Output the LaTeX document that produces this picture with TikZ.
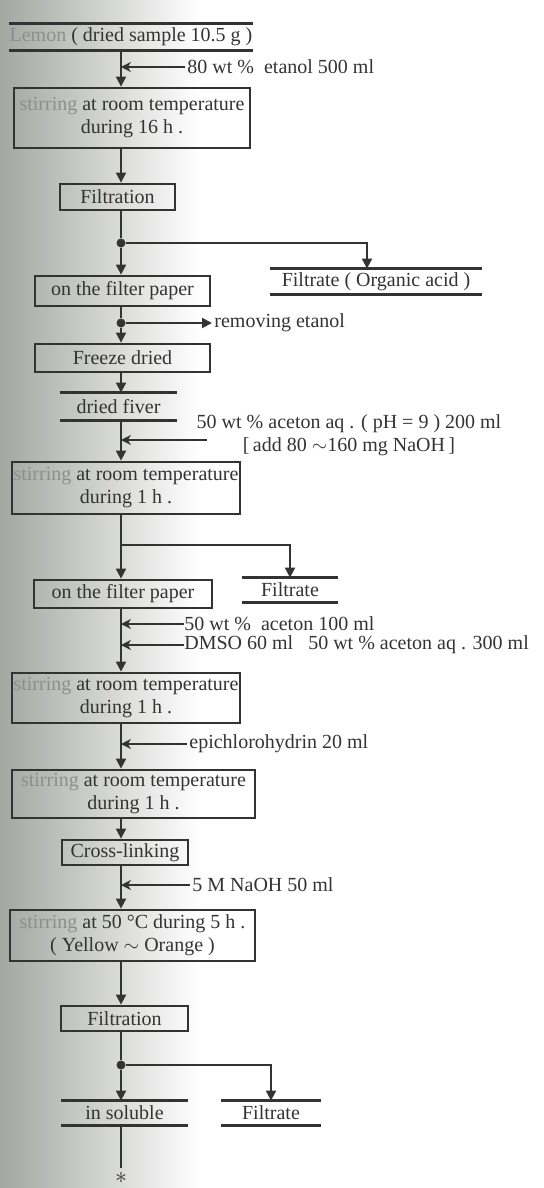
\documentclass[tikz,border=0pt]{standalone}
\usepackage{fontspec}
\setmainfont{Liberation Serif}
\usetikzlibrary{arrows.meta}
\definecolor{Ci}{HTML}{333333}
\definecolor{Cs}{HTML}{A3A6A1}
\definecolor{Cm}{HTML}{D0D1CE}
\definecolor{Cf}{HTML}{8E8E8E}

\tikzset{
  stepbox/.style={draw=Ci, line width=1.4pt, inner sep=0pt, align=center, text=Ci},
  barbox/.style={inner sep=0pt, text=Ci},
  bar/.style={draw=Ci, line width=1.3pt},
  sidetext/.style={anchor=west, inner sep=1pt, text=Ci},
  junction/.style={circle, fill=Ci, inner sep=0pt, minimum size=4.5pt},
  flow/.style={draw=Ci, line width=1pt, -{Triangle[length=5pt,width=5pt]}},
  feed/.style={draw=Ci, line width=1pt, -{Stealth[length=5pt,width=5pt]}},
  plain/.style={draw=Ci, line width=1pt},
}

\begin{document}
\begin{tikzpicture}[x=0.5pt, y=-0.5pt, font=\fontsize{10}{11.5}\selectfont]

		\useasboundingbox (0,0) rectangle (544,1188);
		
		%% scanned page shading on the left
		\shade[left color=Cs, middle color=Cm, right color=white]
		(0,0) rectangle (200,1188);
		
		%% main axis
		\coordinate (ax) at (121,0);
		
		%% ── steps ─────────────────────────────────────────────────────────────
		\node[barbox, minimum width=117pt, minimum height=13pt] (src) at (131,37)
		{\textcolor{Cf}{Lemon} ( dried sample 10.5 g )};
		\node[sidetext] (eta) at (185,67) {80 wt \%\ \ etanol 500 ml};
		\node[stepbox, minimum width=118pt, minimum height=30pt] (st1) at (132,118)
		{\textcolor{Cf}{stirring} at room temperature\\during 16 h .};
		\node[stepbox, minimum width=57.5pt, minimum height=13pt] (fl1) at (117.5,197) {Filtration};
		\node[junction] (j1) at (121,243) {};
		\node[barbox, minimum width=106pt, minimum height=12.5pt] (org) at (376,281.5)
		{Filtrate ( Organic acid )};
		\node[stepbox, minimum width=87.5pt, minimum height=15pt] (fp1) at (122.5,291) {on the filter paper};
		\node[junction] (j2) at (121,323) {};
		\node[sidetext] (rme) at (212,323) {removing etanol};
		\node[stepbox, minimum width=87.5pt, minimum height=14pt] (frz) at (122.5,358) {Freeze dried};
		\node[barbox, minimum width=58.5pt, minimum height=13.5pt] (fiv) at (118.5,406.5) {dried fiver};
		\node[align=center, inner sep=0pt, text=Ci] (ace) at (349,435)
		{50 wt \% aceton aq . ( pH = 9 ) 200 ml\\{[}\,add 80 $\sim$160 mg NaOH\,{]}};
		\coordinate (aceIn) at (207,440);
		\node[stepbox, minimum width=114pt, minimum height=26pt] (st2) at (126,488)
		{\textcolor{Cf}{stirring} at room temperature\\during 1 h .};
		\coordinate (b2) at (121,545);
		\node[barbox, minimum width=48pt, minimum height=12pt] (ft2) at (290,590) {Filtrate};
		\node[stepbox, minimum width=89pt, minimum height=14pt] (fp2) at (123,594) {on the filter paper};
		\node[sidetext, inner sep=0pt] (ac1) at (184,624) {50 wt \%\ \ aceton 100 ml};
		\node[sidetext, inner sep=0pt] (dms) at (184,645) {DMSO 60 ml\ \ \ 50 wt \% aceton aq . 300 ml};
		\node[stepbox, minimum width=114pt, minimum height=25pt] (st3) at (126,698)
		{\textcolor{Cf}{stirring} at room temperature\\during 1 h .};
		\node[sidetext] (epi) at (187,744) {epichlorohydrin 20 ml};
		\node[stepbox, minimum width=121.5pt, minimum height=24pt] (st4) at (133.5,794)
		{\textcolor{Cf}{stirring} at room temperature\\during 1 h .};
		\node[stepbox, minimum width=63pt, minimum height=12.5pt] (crl) at (125,852.5) {Cross-linking};
		\node[sidetext] (nao) at (190,885) {5 M NaOH 50 ml};
		\node[stepbox, minimum width=122.5pt, minimum height=25.5pt] (st5) at (132.5,935.5)
		{\textcolor{Cf}{stirring} at 50 °C during 5 h .\\( Yellow $\sim$ Orange )};
		\node[stepbox, minimum width=63.5pt, minimum height=12.5pt] (fl2) at (124.5,1018.5) {Filtration};
		\node[junction] (j3) at (121,1065) {};
		\node[barbox, minimum width=63.5pt, minimum height=12pt] (ins) at (124.5,1113) {in soluble};
		\node[barbox, minimum width=50pt, minimum height=12pt] (ft3) at (271,1113) {Filtrate};
		\coordinate (tail) at (121,1168);
		\node[inner sep=0pt, text=Ci, font=\fontsize{13}{13}\selectfont] (ast) at (121,1178) {$\ast$};
		
		%% double rules of the product labels
		\foreach \n in {src,org,fiv,ft2,ins,ft3}
		\draw[bar] (\n.north west) -- (\n.north east) (\n.south west) -- (\n.south east);
		
		%% ── connectors ────────────────────────────────────────────────────────
		\draw[flow] (src.south -| ax) -- (st1.north -| ax);
		\draw[feed] (eta.west) -- (eta.west -| ax);
		\draw[flow] (st1.south -| ax) -- (fl1.north -| ax);
		\draw[plain] (fl1.south -| ax) -- (j1);
		\draw[flow] (j1) -- (fp1.north -| ax);
		\draw[flow] (j1) -| ([xshift=-4.5pt]org.north);
		\draw[plain] (fp1.south -| ax) -- (j2);
		\draw[flow] (j2) -- (rme.west);
		\draw[flow] (j2) -- (frz.north -| ax);
		\draw[flow] (frz.south -| ax) -- (fiv.north -| ax);
		\draw[flow] (fiv.south -| ax) -- (st2.north -| ax);
		\draw[feed] (aceIn) -- (aceIn -| ax);
		\draw[plain] (st2.south -| ax) -- (b2);
		\draw[flow] (b2) -- (fp2.north -| ax);
		\draw[flow] (b2) -| (ft2.north);
		\draw[flow] (fp2.south -| ax) -- (st3.north -| ax);
		\draw[feed] (ac1.west) -- (ac1.west -| ax);
		\draw[feed] (dms.west) -- (dms.west -| ax);
		\draw[flow] (st3.south -| ax) -- (st4.north -| ax);
		\draw[feed] (epi.west) -- (epi.west -| ax);
		\draw[flow] (st4.south -| ax) -- (crl.north -| ax);
		\draw[flow] (crl.south -| ax) -- (st5.north -| ax);
		\draw[feed] (nao.west) -- (nao.west -| ax);
		\draw[flow] (st5.south -| ax) -- (fl2.north -| ax);
		\draw[plain] (fl2.south -| ax) -- (j3);
		\draw[flow] (j3) -- (ins.north -| ax);
		\draw[flow] (j3) -| (ft3.north);
		\draw[plain] (ins.south -| ax) -- (tail);
		
\end{tikzpicture}
\end{document}
